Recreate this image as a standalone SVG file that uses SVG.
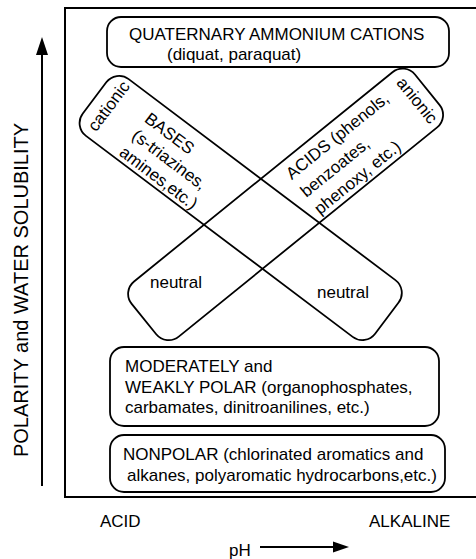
<svg xmlns="http://www.w3.org/2000/svg" width="476" height="559" viewBox="0 0 476 559">
<defs>
<style>
text{font-family:"Liberation Sans",Arial,sans-serif;font-size:17px;fill:#000}
.box{fill:none;stroke:#000;stroke-width:1.8}
.ax{fill:none;stroke:#000;stroke-width:2}
.big{font-size:20px}
</style>
</defs>
<rect width="476" height="559" fill="#fff"/>
<g id="frame">
<polyline class="ax" points="478,8 65,8 65,497 478,497"/>
</g>
<g id="connectors">
<line x1="42" y1="486" x2="42" y2="54" stroke="#000" stroke-width="2"/>
<polygon points="42,37 36,55 48,55" fill="#000"/>
<line x1="260" y1="547" x2="334" y2="547" stroke="#000" stroke-width="2"/>
<polygon points="349,547 333,541.5 333,552.5" fill="#000"/>
</g>
<g id="yaxis-label">
<text class="big" transform="translate(28,290) rotate(-90)" text-anchor="middle">POLARITY and WATER SOLUBILITY</text>
</g>
<g id="quaternary">
<rect class="box" x="107" y="17" width="342" height="50" rx="14"/>
<text x="129" y="40">QUATERNARY AMMONIUM CATIONS</text>
<text x="167" y="60">(diquat, paraquat)</text>
</g>
<g id="bases" transform="translate(240.7,208) rotate(37)">
<rect class="box" x="-183" y="-35.5" width="366" height="71" rx="16"/>
<text transform="rotate(-90)" x="2" y="-161" text-anchor="middle">cationic</text>
<text x="-130" y="-11">BASES</text>
<text x="-130" y="10">(s-triazines,</text>
<text x="-130" y="31">amines,etc.)</text>
</g>
<g id="acids" transform="translate(285.6,204.4) rotate(-39)">
<rect class="box" x="-182.25" y="-35.5" width="364.5" height="71" rx="16"/>
<text transform="rotate(90)" x="2" y="-162" text-anchor="middle">anionic</text>
<text x="20" y="-15">ACIDS (phenols,</text>
<text x="20" y="8">benzoates,</text>
<text x="20" y="30">phenoxy, etc.)</text>
</g>
<g id="neutral-labels">
<text x="150" y="288">neutral</text>
<text x="317" y="298">neutral</text>
</g>
<g id="moderately">
<rect class="box" x="110" y="347" width="329" height="79" rx="14"/>
<text x="125" y="372">MODERATELY and</text>
<text x="125" y="393">WEAKLY POLAR (organophosphates,</text>
<text x="125" y="413">carbamates, dinitroanilines, etc.)</text>
</g>
<g id="nonpolar">
<rect class="box" x="110" y="435" width="335" height="57" rx="14"/>
<text x="123" y="460">NONPOLAR (chlorinated aromatics and</text>
<text x="127" y="481">alkanes, polyaromatic hydrocarbons,etc.)</text>
</g>
<g id="xaxis-labels">
<text x="100" y="527">ACID</text>
<text x="369" y="527">ALKALINE</text>
<text x="229" y="556">pH</text>
</g>
</svg>
